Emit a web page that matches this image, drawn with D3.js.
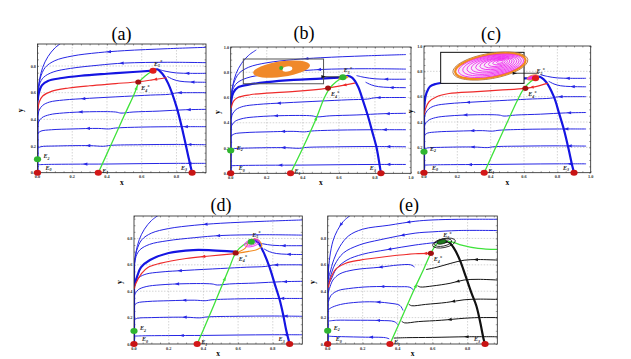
<!DOCTYPE html>
<html>
<head>
<meta charset="utf-8">
<script src="https://cdn.jsdelivr.net/npm/d3@7"></script>
<style>
body { margin: 0; background: #fff; }
svg { display: block; }
text { font-family: "Liberation Serif", "DejaVu Serif", serif; }
</style>
</head>
<body>
<div id="chart"></div>
<script>
// ---- shared trajectories (x, y), listed in the direction of the flow ----
var topCurve = [[0.14,0.975],[0.1,0.935],[0.06,0.87],[0.03,0.79],[0.012,0.7],[0.004,0.62],[0.001,0.56]];
var upper1 = [[0.97,0.94],[0.75,0.93],[0.5,0.915],[0.35,0.9],[0.2,0.875],[0.1,0.84],[0.045,0.79],[0.016,0.71],[0.004,0.63],[0.001,0.57]];
var upper2 = [[0.97,0.825],[0.75,0.828],[0.5,0.822],[0.35,0.806],[0.19,0.782],[0.09,0.755],[0.035,0.715],[0.012,0.665],[0.003,0.6],[0.001,0.55]];
var side1 = [[0.97,0.745],[0.88,0.745],[0.8,0.748],[0.74,0.76],[0.7,0.773]];
var side2 = [[0.97,0.678],[0.88,0.68],[0.82,0.686],[0.78,0.7],[0.75,0.72]];
var mid1 = [[0.97,0.6],[0.88,0.6],[0.8,0.598],[0.76,0.588],[0.65,0.582],[0.5,0.572],[0.3,0.558],[0.15,0.545],[0.07,0.53],[0.03,0.505],[0.01,0.47],[0.002,0.43]];
var mid2 = [[0.97,0.475],[0.85,0.472],[0.7,0.462],[0.55,0.455],[0.48,0.447],[0.45,0.455],[0.3,0.457],[0.15,0.448],[0.07,0.435],[0.025,0.412],[0.006,0.38],[0.001,0.35]];
var mid3 = [[0.97,0.345],[0.8,0.345],[0.6,0.342],[0.45,0.335],[0.41,0.328],[0.35,0.332],[0.2,0.328],[0.08,0.322],[0.02,0.312],[0.002,0.295]];
var mid4 = [[0.97,0.21],[0.8,0.212],[0.6,0.21],[0.42,0.205],[0.38,0.198],[0.3,0.203],[0.1,0.2],[0.02,0.195],[0.002,0.185]];
var mid5 = [[0.97,0.07],[0.8,0.07],[0.6,0.068],[0.4,0.065],[0.2,0.064],[0.05,0.062],[0.004,0.06]];
var yAxisFlow = [[0,0],[0,0.6]];

// equilibria E0..E5 per panel
var eqNames = ["0","1","2","3","4","5"];
var eqA = [[0,0],[0.35,0],[0,0.1],[0.89,0],[0.58,0.68],[0.665,0.765]];
var eqB = [[0,0],[0.332,0],[0,0.18],[0.833,0],[0.54,0.675],[0.622,0.76]];
var eqC = [[0,0],[0.361,0],[0,0.166],[0.9,0],[0.608,0.666],[0.669,0.745]];
var eqD = [[0,0],[0.364,0],[0,0.098],[0.897,0],[0.586,0.69],[0.676,0.775]];
var eqE = [[0,0],[0.356,0],[0,0.1],[0.9,0],[0.59,0.687],[0.655,0.772]];

// panel (a)
var thickRightA = [[0.89,0],[0.872,0.1],[0.838,0.3],[0.8,0.495],[0.752,0.67],[0.72,0.74],[0.69,0.775],[0.665,0.766]];
var thickLeftA = [[0.665,0.765],[0.55,0.755],[0.4,0.742],[0.25,0.727],[0.13,0.708],[0.06,0.688],[0.025,0.655],[0.008,0.6],[0.002,0.55]];
var redA = [[0.74,0.712],[0.66,0.696],[0.58,0.682],[0.45,0.668],[0.3,0.652],[0.18,0.635],[0.08,0.61],[0.03,0.575],[0.01,0.53],[0.002,0.47]];
var greenA = [[0.35,0],[0.42,0.2],[0.5,0.43],[0.56,0.6],[0.585,0.68],[0.62,0.725],[0.66,0.762]];

// panel (b)
var thickRightB = [[0.833,0],[0.822,0.1],[0.808,0.21],[0.785,0.33],[0.762,0.45],[0.735,0.57],[0.706,0.687],[0.675,0.755],[0.65,0.772],[0.622,0.76]];
var thickLeftB = [[0.622,0.76],[0.5,0.75],[0.35,0.74],[0.2,0.722],[0.1,0.702],[0.04,0.68],[0.015,0.64],[0.004,0.582],[0.001,0.53]];
var redB = [[0.687,0.714],[0.6,0.69],[0.54,0.675],[0.357,0.648],[0.2,0.635],[0.108,0.622],[0.04,0.6],[0.015,0.569],[0.003,0.52]];
var greenB = [[0.332,0],[0.4,0.2],[0.47,0.42],[0.52,0.6],[0.55,0.675],[0.585,0.725],[0.622,0.76]];
var insetBoxB = [0.07,0.905,0.515,0.709];
var orangeCycleB = [0.282,0.825,0.159,0.062];
var holeB = [0.314,0.826,0.028,0.02];
var focusB = [0.28,0.833];
var smallCycleB = [0.625,0.757,0.028,0.013];
var pointerB = [[0.64,0.762],[0.515,0.765]];

// panel (c)
var thickRightC = [[0.9,0],[0.89,0.05],[0.865,0.2],[0.84,0.337],[0.81,0.47],[0.779,0.6],[0.73,0.72],[0.689,0.758],[0.669,0.745]];
var thickLeftC = [[0.669,0.745],[0.6,0.745],[0.4,0.735],[0.25,0.727],[0.157,0.718],[0.07,0.7],[0.036,0.68],[0.015,0.63],[0.004,0.56],[0.001,0.5]];
var redC = [[0.739,0.705],[0.67,0.68],[0.608,0.666],[0.45,0.652],[0.317,0.64],[0.15,0.625],[0.076,0.6],[0.03,0.56],[0.008,0.5],[0.002,0.46]];
var greenC = [[0.361,0],[0.43,0.2],[0.5,0.4],[0.56,0.57],[0.6,0.665],[0.64,0.72],[0.669,0.745]];
var insetBoxC = [0.1,0.95,0.6,0.705];
var brownRingC = [0.398,0.842,0.228,0.1];
var orangeRingC = [0.398,0.842,0.214,0.09];
var magentaRingsC = [
  [0.402,0.844,0.198,0.082],[0.408,0.847,0.178,0.074],[0.414,0.85,0.158,0.066],
  [0.42,0.853,0.138,0.058],[0.426,0.856,0.118,0.05],[0.432,0.86,0.098,0.042],
  [0.438,0.864,0.078,0.034],[0.444,0.867,0.058,0.026],[0.45,0.871,0.038,0.018],
  [0.455,0.874,0.02,0.01]];
var blobC = [0.652,0.752,0.035,0.018];
var pointerC = [[0.69,0.785],[0.545,0.785]];

// panel (d)
var thickRightD = [[0.897,0],[0.877,0.106],[0.86,0.22],[0.84,0.333],[0.81,0.46],[0.78,0.586],[0.745,0.7],[0.715,0.77],[0.695,0.79],[0.676,0.78]];
var thickLeftD = [[0.575,0.7],[0.45,0.71],[0.341,0.712],[0.2,0.69],[0.092,0.636],[0.04,0.58],[0.015,0.5],[0.003,0.45]];
var redD = [[0.6,0.687],[0.437,0.667],[0.3,0.648],[0.149,0.611],[0.08,0.58],[0.044,0.535],[0.011,0.46],[0.002,0.42]];
var greenD = [[0.364,0],[0.43,0.2],[0.5,0.42],[0.55,0.58],[0.586,0.69],[0.63,0.75],[0.676,0.775]];
var orangeLoopD = [[0.597,0.69],[0.64,0.725],[0.665,0.775],[0.695,0.798],[0.725,0.778],[0.736,0.742],[0.71,0.716],[0.66,0.702]];
var magentaRingsD = [[0.68,0.765,0.045,0.026],[0.68,0.768,0.032,0.018],[0.678,0.772,0.019,0.011]];

// panel (e)
var eTop = [[0.13,0.975],[0.09,0.93],[0.055,0.86],[0.03,0.78],[0.012,0.66],[0.004,0.55],[0.001,0.5]];
var eUpper1 = [[0.97,0.945],[0.75,0.945],[0.6,0.94],[0.5,0.93],[0.35,0.9],[0.2,0.87],[0.12,0.82],[0.07,0.74],[0.035,0.64],[0.013,0.54],[0.004,0.5]];
var eUpper2 = [[0.97,0.86],[0.75,0.86],[0.6,0.85],[0.5,0.84],[0.3,0.79],[0.18,0.75],[0.09,0.69],[0.04,0.6],[0.015,0.51],[0.004,0.47]];
var eUpper3 = [[0.635,0.772],[0.5,0.75],[0.34,0.715],[0.2,0.68],[0.11,0.636],[0.05,0.57],[0.02,0.49],[0.004,0.45]];
var eRed = [[0.59,0.687],[0.5,0.684],[0.35,0.665],[0.185,0.636],[0.1,0.61],[0.05,0.573],[0.02,0.51],[0.004,0.43]];
var eBlue1 = [[0.495,0.585],[0.475,0.6],[0.4,0.598],[0.3,0.582],[0.15,0.562],[0.07,0.532],[0.03,0.485],[0.01,0.42],[0.003,0.39]];
var eBlue2 = [[0.49,0.41],[0.47,0.43],[0.4,0.434],[0.24,0.434],[0.12,0.42],[0.06,0.405],[0.02,0.37],[0.004,0.32]];
var eBlue3 = [[0.43,0.257],[0.413,0.292],[0.35,0.31],[0.24,0.32],[0.12,0.31],[0.06,0.295],[0.02,0.275],[0.004,0.26]];
var eBlue4 = [[0.4,0.15],[0.38,0.17],[0.3,0.178],[0.15,0.18],[0.05,0.18],[0.01,0.175]];
var eBlue5 = [[0.35,0.04],[0.33,0.048],[0.2,0.052],[0.1,0.055],[0.02,0.058],[0.004,0.06]];
var eBlack1 = [[0.97,0.636],[0.86,0.64],[0.78,0.635],[0.7,0.61],[0.62,0.58],[0.565,0.565]];
var eBlack2 = [[0.97,0.485],[0.86,0.49],[0.78,0.485],[0.7,0.46],[0.6,0.44],[0.53,0.432],[0.515,0.44]];
var eBlack3 = [[0.97,0.338],[0.86,0.34],[0.78,0.335],[0.68,0.315],[0.56,0.3],[0.48,0.29],[0.465,0.3]];
var eBlack4 = [[0.97,0.2],[0.86,0.2],[0.78,0.195],[0.65,0.18],[0.52,0.17],[0.44,0.16],[0.425,0.17]];
var eBlack5 = [[0.97,0.055],[0.8,0.055],[0.6,0.05],[0.45,0.048],[0.38,0.045]];
var eThickRight = [[0.9,0],[0.893,0.03],[0.87,0.18],[0.85,0.29],[0.823,0.384],[0.79,0.51],[0.756,0.636],[0.72,0.73],[0.69,0.775],[0.665,0.77]];
var eGreen = [[0.356,0],[0.42,0.19],[0.49,0.4],[0.55,0.57],[0.59,0.687],[0.625,0.76],[0.655,0.775]];
var eGreenRight = [[0.97,0.717],[0.86,0.725],[0.766,0.75],[0.72,0.77],[0.69,0.778]];
var eSpiral = [[0.66,0.768,0.05,0.026],[0.665,0.765,0.066,0.034]];
var eFocus = [0.652,0.774,0.028,0.016];

var tickVals = [0, 0.2, 0.4, 0.6, 0.8, 1.0];

// ---- styles ----
var styles = {
  thin: { stroke: "#2626e4", width: 1 },
  thick: { stroke: "#1515e2", width: 2.2 },
  red: { stroke: "#ee2b2b", width: 1.2 },
  green: { stroke: "#3fe23b", width: 1.3 },
  black: { stroke: "#141414", width: 1 },
  blackThick: { stroke: "#111", width: 2.2 }
};
var eqColorsDefault = ["#c81414", "#d41818", "#2fb52f", "#c81414", "#a01010", "#e01c1c"];

var panels = [
  { key: "a", title: "(a)", box: [37.5, 44, 206, 172.7], xMax: 0.97, yMax: 0.965, titlePos: [121.5, 40], yLab: 15, full: false,
    eq: eqA, eqColors: eqColorsDefault,
    lines: [
      [topCurve, "thin", []], [upper1, "thin", [0.5]], [upper2, "thin", [0.45]],
      [side1, "thin", [0.4]], [side2, "thin", [0.35]],
      [mid1, "thin", [0.15, 0.7]], [mid2, "thin", [0.1, 0.72]], [mid3, "thin", [0.12, 0.7]],
      [mid4, "thin", [0.1, 0.7]], [mid5, "thin", [0.1, 0.72]],
      [yAxisFlow, "thick", []], [thickRightA, "thick", []], [thickLeftA, "thick", []],
      [redA, "red", [0.08]], [greenA, "green", [0.8]]
    ] },
  { key: "b", title: "(b)", box: [230.7, 47, 411, 173.3], xMax: 1, yMax: 1, titlePos: [304, 38.5], yLab: 11, full: true,
    eq: eqB, eqColors: ["#c81414", "#d41818", "#2fb52f", "#c81414", "#a01010", "#2fb52f"],
    lines: [
      [topCurve, "thin", []], [upper1, "thin", [0.5]], [upper2, "thin", [0.45]],
      [side1, "thin", [0.4]], [side2, "thin", [0.35]],
      [mid1, "thin", [0.15, 0.7]], [mid2, "thin", [0.1, 0.72]], [mid3, "thin", [0.12, 0.7]],
      [mid4, "thin", [0.1, 0.7]], [mid5, "thin", [0.1, 0.72]],
      [yAxisFlow, "thick", []], [thickRightB, "thick", []], [thickLeftB, "thick", []],
      [redB, "red", [0.08]], [greenB, "green", [0.55]]
    ] },
  { key: "c", title: "(c)", box: [424, 46, 590.7, 172.7], xMax: 1, yMax: 1, titlePos: [491, 39.5], yLab: 11, full: true,
    eq: eqC, eqColors: eqColorsDefault,
    lines: [
      [side1, "thin", [0.4]], [side2, "thin", [0.35]],
      [mid1, "thin", [0.15, 0.7]], [mid2, "thin", [0.1, 0.72]], [mid3, "thin", [0.12, 0.7]],
      [mid4, "thin", [0.1, 0.7]], [mid5, "thin", [0.1, 0.72]],
      [yAxisFlow, "thick", []], [thickRightC, "thick", []], [thickLeftC, "thick", []],
      [redC, "red", [0.12]], [greenC, "green", []]
    ] },
  { key: "d", title: "(d)", box: [134, 216, 302.3, 344], xMax: 0.97, yMax: 0.97, titlePos: [221, 210.5], yLab: 12, full: false,
    eq: eqD, eqColors: ["#c81414", "#d41818", "#2fb52f", "#c81414", "#a01010", "#2fb52f"],
    lines: [
      [topCurve, "thin", []], [upper1, "thin", [0.5]], [upper2, "thin", [0.45]],
      [side1, "thin", [0.4]], [side2, "thin", [0.35]],
      [mid1, "thin", [0.15, 0.7]], [mid2, "thin", [0.1, 0.72]], [mid3, "thin", [0.12, 0.7]],
      [mid4, "thin", [0.1, 0.7]], [mid5, "thin", [0.1, 0.72]],
      [yAxisFlow, "thick", []], [thickRightD, "thick", []], [thickLeftD, "thick", []],
      [redD, "red", [0.3]], [greenD, "green", [0.6]]
    ] },
  { key: "e", title: "(e)", box: [327.7, 216, 497.3, 344], xMax: 0.97, yMax: 0.97, titlePos: [409, 210.5], yLab: 13, full: false,
    eq: eqE, eqColors: ["#c81414", "#d41818", "#2fb52f", "#c81414", "#a01010", "#1f7a1f"],
    lines: [
      [eTop, "thin", [0.2]], [eUpper1, "thin", [0.45]], [eUpper2, "thin", [0.5]], [eUpper3, "thin", [0.4]],
      [eBlue1, "thin", [0.35]], [eBlue2, "thin", [0.35]], [eBlue3, "thin", [0.35]],
      [eBlue4, "thin", [0.3]], [eBlue5, "thin", [0.3]],
      [eBlack1, "black", [0.3]], [eBlack2, "black", [0.5]], [eBlack3, "black", [0.5]],
      [eBlack4, "black", [0.5]], [eBlack5, "black", [0.3]],
      [yAxisFlow, "thick", []], [eThickRight, "blackThick", []],
      [eRed, "red", [0.05]], [eGreen, "green", [0.55]], [eGreenRight, "green", []]
    ] }
];

// label offsets for E0..E5 (px from marker): dx, dy, anchor
var eqLabelOffsets = [[8, -3, "start"], [4, 0, "start"], [6, -1, "start"], [-5, -3, "end"], [3, 8, "start"], [1, -5, "start"]];

var svg = d3.select("#chart").append("svg")
  .attr("width", 631)
  .attr("height", 359);

function drawArrow(g, node, frac, color) {
  var L = node.getTotalLength();
  var p = node.getPointAtLength(L * frac);
  var q = node.getPointAtLength(Math.min(L, L * frac + 1));
  var ang = Math.atan2(q.y - p.y, q.x - p.x) * 180 / Math.PI;
  g.append("path")
    .attr("d", "M2.2,0L-2.2,-1.6L-2.2,1.6Z")
    .attr("transform", "translate(" + p.x + "," + p.y + ") rotate(" + ang + ")")
    .attr("fill", color);
}

function ellipseIn(g, x, y, e, rot) {
  var cx = x(e[0]), cy = y(e[1]);
  return g.append("ellipse")
    .attr("cx", cx).attr("cy", cy)
    .attr("rx", x(e[2]) - x(0))
    .attr("ry", y(0) - y(e[3]))
    .attr("transform", "rotate(" + (rot || 0) + "," + cx + "," + cy + ")");
}

panels.forEach(function (p) {
  var x0 = p.box[0], y0 = p.box[1], x1 = p.box[2], y1 = p.box[3];
  var x = d3.scaleLinear().domain([0, p.xMax]).range([x0, x1]);
  var y = d3.scaleLinear().domain([0, p.yMax]).range([y1, y0]);
  var g = svg.append("g").attr("class", "panel-" + p.key);
  var ticks = tickVals.filter(function (t) { return t <= p.xMax + 0.001 && t > 0; });
  var yTicks = tickVals.filter(function (t) { return t <= p.yMax + 0.001 && t > 0; });

  /* grid */
  g.append("g").selectAll("line.gx").data(ticks.filter(function (t) { return t < p.xMax - 0.01; }))
    .enter().append("line")
    .attr("x1", d => x(d)).attr("x2", d => x(d)).attr("y1", y0).attr("y2", y1)
    .attr("stroke", "#b8b8b8").attr("stroke-width", 0.6).attr("stroke-dasharray", "1.5,1.5");
  g.append("g").selectAll("line.gy").data(yTicks.filter(function (t) { return t < p.yMax - 0.01; }))
    .enter().append("line")
    .attr("y1", d => y(d)).attr("y2", d => y(d)).attr("x1", x0).attr("x2", x1)
    .attr("stroke", "#b8b8b8").attr("stroke-width", 0.6).attr("stroke-dasharray", "1.5,1.5");

  /* frame ticks (inward) */
  var axB = d3.axisBottom(x).ticks(20).tickSize(-1.5).tickFormat("");
  var axT = d3.axisTop(x).ticks(20).tickSize(-1.5).tickFormat("");
  var axL = d3.axisLeft(y).ticks(20).tickSize(-1.5).tickFormat("");
  var axR = d3.axisRight(y).ticks(20).tickSize(-1.5).tickFormat("");
  [[axB, "translate(0," + y1 + ")"], [axT, "translate(0," + y0 + ")"], [axL, "translate(" + x0 + ",0)"], [axR, "translate(" + x1 + ",0)"]]
    .forEach(function (a) {
      var ag = g.append("g").attr("transform", a[1]).call(a[0]);
      ag.select(".domain").remove();
      ag.selectAll("line").attr("stroke", "#444").attr("stroke-width", 0.5);
    });

  /* tick labels */
  var xl = [0].concat(ticks).filter(function (t) { return p.full || t < 0.99; });
  var yl = [0].concat(yTicks).filter(function (t) { return p.full || t < 0.99; });
  g.append("g").selectAll("text").data(xl).enter().append("text")
    .attr("x", d => x(d)).attr("y", y1 + 5.5)
    .attr("text-anchor", "middle").attr("font-size", 4.3).attr("font-weight", "bold").attr("fill", "#333")
    .text(d => d3.format(".1f")(d));
  g.append("g").selectAll("text").data(yl).enter().append("text")
    .attr("x", x0 - 1.5).attr("y", d => y(d) + 1.5)
    .attr("text-anchor", "end").attr("font-size", 4.3).attr("font-weight", "bold").attr("fill", "#333")
    .text(d => d3.format(".1f")(d));

  /* axis names */
  g.append("text").attr("x", (x0 + x1) / 2).attr("y", y1 + 12)
    .attr("text-anchor", "middle").attr("font-size", 7.5).attr("font-weight", "bold").text("x");
  g.append("text").attr("transform", "translate(" + (x0 - p.yLab) + "," + ((y0 + y1) / 2 + 2) + ") rotate(-90)")
    .attr("text-anchor", "middle").attr("font-size", 7.5).attr("font-weight", "bold").text("y");

  /* title */
  g.append("text").attr("x", p.titlePos[0]).attr("y", p.titlePos[1])
    .attr("text-anchor", "middle").attr("font-size", 18).text(p.title);

  /* clipped plot area */
  var clipId = "clip-" + p.key;
  g.append("clipPath").attr("id", clipId).append("rect")
    .attr("x", x0).attr("y", y0).attr("width", x1 - x0).attr("height", y1 - y0);
  var plot = g.append("g").attr("clip-path", "url(#" + clipId + ")");

  var line = d3.line().x(d => x(d[0])).y(d => y(d[1])).curve(d3.curveCatmullRom.alpha(0.5));

  p.lines.forEach(function (l) {
    var st = styles[l[1]];
    var path = plot.append("path")
      .attr("d", line(l[0]))
      .attr("fill", "none")
      .attr("stroke", st.stroke)
      .attr("stroke-width", st.width)
      .attr("stroke-linecap", "round");
    l[2].forEach(function (f) { drawArrow(plot, path.node(), f, st.stroke); });
  });

  /* panel extras */
  if (p.key === "b") {
    ellipseIn(plot, x, y, smallCycleB, -10).attr("fill", "#f39a2c");
    var bx = insetBoxB;
    plot.append("rect").attr("x", x(bx[0])).attr("y", y(bx[1]))
      .attr("width", x(bx[2]) - x(bx[0])).attr("height", y(bx[3]) - y(bx[1]))
      .attr("fill", "none").attr("stroke", "#555").attr("stroke-width", 1);
    ellipseIn(plot, x, y, orangeCycleB, -8).attr("fill", "#f0892a");
    ellipseIn(plot, x, y, holeB, -8).attr("fill", "#fff");
    plot.append("circle").attr("cx", x(focusB[0])).attr("cy", y(focusB[1])).attr("r", 2).attr("fill", "#2fb52f");
    var pb = plot.append("path").attr("d", d3.line().x(d => x(d[0])).y(d => y(d[1]))(pointerB))
      .attr("stroke", "#111").attr("stroke-width", 0.8).attr("fill", "none");
    drawArrow(plot, pb.node(), 1, "#111");
  }
  if (p.key === "c") {
    ellipseIn(plot, x, y, blobC, -15).attr("fill", "#ee33ee").attr("stroke", "#f0892a").attr("stroke-width", 0.8);
    var cb = insetBoxC;
    plot.append("rect").attr("x", x(cb[0])).attr("y", y(cb[1]))
      .attr("width", x(cb[2]) - x(cb[0])).attr("height", y(cb[3]) - y(cb[1]))
      .attr("fill", "#fff").attr("stroke", "#111").attr("stroke-width", 1);
    ellipseIn(plot, x, y, brownRingC, -10).attr("fill", "none").attr("stroke", "#b07a4a").attr("stroke-width", 0.9);
    ellipseIn(plot, x, y, orangeRingC, -10).attr("fill", "#f8e8f8").attr("stroke", "#f28a1e").attr("stroke-width", 2.2);
    magentaRingsC.forEach(function (r) {
      ellipseIn(plot, x, y, r, -10).attr("fill", "none").attr("stroke", "#ef22ef").attr("stroke-width", 0.8);
    });
    var pc = plot.append("path").attr("d", d3.line().x(d => x(d[0])).y(d => y(d[1]))(pointerC))
      .attr("stroke", "#111").attr("stroke-width", 0.8).attr("fill", "none");
    drawArrow(plot, pc.node(), 1, "#111");
  }
  if (p.key === "d") {
    plot.append("path")
      .attr("d", d3.line().x(d => x(d[0])).y(d => y(d[1])).curve(d3.curveCatmullRomClosed)(orangeLoopD))
      .attr("fill", "none").attr("stroke", "#f28a1e").attr("stroke-width", 1.1);
    magentaRingsD.forEach(function (r) {
      ellipseIn(plot, x, y, r, -15).attr("fill", "none").attr("stroke", "#ef22ef").attr("stroke-width", 0.8);
    });
  }
  if (p.key === "e") {
    eSpiral.forEach(function (r) {
      ellipseIn(plot, x, y, r, -12).attr("fill", "none").attr("stroke", "#111").attr("stroke-width", 0.8);
    });
  }

  /* frame */
  g.append("rect").attr("x", x0).attr("y", y0).attr("width", x1 - x0).attr("height", y1 - y0)
    .attr("fill", "none").attr("stroke", "#222").attr("stroke-width", 0.8);

  /* equilibria */
  p.eq.forEach(function (e, i) {
    var cx = x(e[0]), cy = y(e[1]);
    if (p.key === "e" && i === 5) {
      ellipseIn(g, x, y, eFocus, -12).attr("fill", p.eqColors[i]).attr("stroke", "#111").attr("stroke-width", 0.6);
    } else {
      g.append("ellipse").attr("cx", cx).attr("cy", cy)
        .attr("rx", i === 4 ? 3 : 3.6).attr("ry", i === 4 ? 2.6 : 3)
        .attr("fill", p.eqColors[i]);
    }
    var off = eqLabelOffsets[i];
    var t = g.append("text").attr("x", cx + off[0]).attr("y", cy + off[1])
      .attr("text-anchor", off[2]).attr("font-size", 6).attr("font-style", "italic").attr("font-weight", "bold")
      .attr("fill", "#222");
    t.append("tspan").text("E");
    t.append("tspan").attr("font-size", 4).attr("dy", 1.5).text(eqNames[i]);
    if (i >= 4) t.append("tspan").attr("font-size", 4.5).attr("dy", -4).text("*");
  });
});
</script>
</body>
</html>
